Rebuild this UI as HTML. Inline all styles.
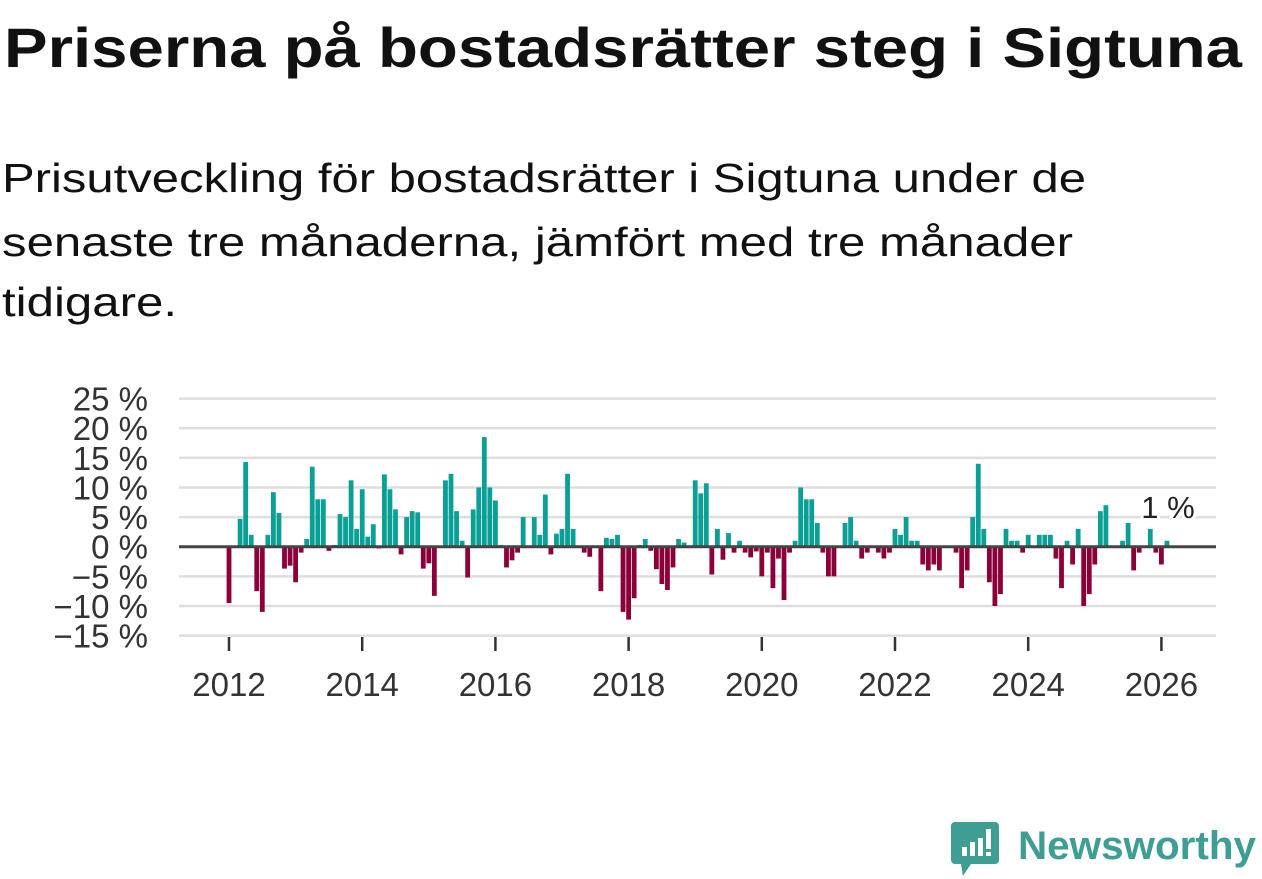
<!DOCTYPE html>
<html><head><meta charset="utf-8">
<style>
body{margin:0;background:#fff;width:1262px;height:879px;overflow:hidden;font-family:"Liberation Sans",sans-serif;}
svg{display:block}
</style></head>
<body>
<svg width="1262" height="879" viewBox="0 0 1262 879">
<text x="4" y="67" font-size="56" font-weight="bold" fill="#111" textLength="1238" lengthAdjust="spacingAndGlyphs">Priserna på bostadsrätter steg i Sigtuna</text>
<g font-size="41" fill="#111">
<text x="2" y="192" textLength="1084" lengthAdjust="spacingAndGlyphs">Prisutveckling för bostadsrätter i Sigtuna under de</text>
<text x="2" y="256" textLength="1071" lengthAdjust="spacingAndGlyphs">senaste tre månaderna, jämfört med tre månader</text>
<text x="2" y="316" textLength="175" lengthAdjust="spacingAndGlyphs">tidigare.</text>
</g>
<g id="grid"></g>
<g id="bars"></g>
<g id="axes"></g>
<g>
<path d="M955 822 h40 a4 4 0 0 1 4 4 v34 a4 4 0 0 1 -4 4 h-24 l-8 12 l-2 -12 h-6 a4 4 0 0 1 -4 -4 v-34 a4 4 0 0 1 4 -4z" fill="#3e9e94"/>
<rect x="962" y="847" width="5" height="9" fill="#fff"/>
<rect x="970" y="842" width="5" height="14" fill="#fff"/>
<rect x="978" y="838" width="5" height="18" fill="#fff"/>
<rect x="986" y="829" width="5" height="20" fill="#fff"/>
<rect x="986" y="852" width="5" height="4" fill="#fff"/>
<text x="1018" y="859" font-size="40" font-weight="bold" fill="#3e9e94" textLength="238" lengthAdjust="spacingAndGlyphs">Newsworthy</text>
</g>
</svg>
<script>
const startYear = 2012;
const values = [
-9.5,0,4.7,14.3,2,-7.5,-11,2,9.2,5.7,-3.7,-3.2,
-6,-1,1.3,13.5,8,8,-0.7,0.3,5.5,5,11.2,3,
9.7,1.7,3.8,-0.3,12.2,9.7,6.3,-1.3,5,6,5.8,-3.7,
-2.8,-8.3,0,11.2,12.3,6,1,-5.2,6.3,10,18.5,10,
7.8,0.3,-3.5,-2.3,-1,5,0,5,2,8.8,-1.3,2.2,
3,12.3,3,0,-1,-1.7,0,-7.5,1.5,1.3,2,-11,
-12.3,-8.7,0.3,1.3,-0.7,-3.8,-6.3,-7.3,-3.5,1.3,0.7,0,
11.2,9,10.7,-4.7,3,-2.2,2.3,-1,1,-1,-1.8,-0.8,
-5,-1,-7,-2,-9,-1,1,10,8,8,4,-1,
-5,-5,0,4,5,1,-2,-1,0,-1,-2,-1,
3,2,5,1,1,-3,-4,-3,-4,0,0,-1,
-7,-4,5,14,3,-6,-10,-8,3,1,1,-1,
2,0,2,2,2,-2,-7,1,-3,3,-10,-8,
-3,6,7,0,0,1,4,-4,-1,0,3,-1,
-3,1
];
const yTicks = [25,20,15,10,5,0,-5,-10,-15];
const yTickLabels = ["25 %","20 %","15 %","10 %","5 %","0 %","\u22125 %","\u221210 %","\u221215 %"];
const xTicks = [2012,2014,2016,2018,2020,2022,2024,2026];
const lastLabel = "1 %";

const NS="http://www.w3.org/2000/svg";
const y = v => 546.7 - v*5.925;
const x = i => 229 + i*5.55;
const xYear = yr => x((yr-startYear)*12);
function mk(tag, attrs, parent){const e=document.createElementNS(NS,tag);for(const k in attrs)e.setAttribute(k,attrs[k]);parent.appendChild(e);return e;}
const grid=document.getElementById('grid'), bars=document.getElementById('bars'), axes=document.getElementById('axes');
yTicks.forEach((t,k)=>{
  const l=mk('line',{x1:179,x2:1216,y1:y(t),y2:y(t),stroke:'#dedede','stroke-width':2.5},grid);
  
  
  const tx=mk('text',{x:148,y:y(t)+12,'font-size':33,fill:'#333','text-anchor':'end'},axes);
  tx.textContent=yTickLabels[k];
  
  
});
values.forEach((v,i)=>{
  const r=mk('rect',{x:x(i)-2.4,width:4.8,y:v>=0?y(v):y(0),height:Math.abs(y(v)-y(0)),fill:v>=0?'#0aa096':'#8c0039'},bars);
  
  
});
const z=mk('line',{x1:179,x2:1216,y1:y(0),y2:y(0),stroke:'#444','stroke-width':3},axes);


xTicks.forEach(yr=>{
  const t=mk('line',{x1:xYear(yr),x2:xYear(yr),y1:637,y2:651,stroke:'#333','stroke-width':2.5},axes);
  
  
  const tx=mk('text',{x:xYear(yr),y:696,'font-size':33,fill:'#333','text-anchor':'middle'},axes);
  tx.textContent=String(yr);
  
  
});
const li=values.length-1;
const lb=mk('text',{x:x(li)+1,y:y(Math.max(values[li],0))-23,'font-size':31,fill:'#222','text-anchor':'middle',stroke:'#fff','stroke-width':6,'paint-order':'stroke'},axes);
lb.textContent=lastLabel;


</script>
</body></html>
